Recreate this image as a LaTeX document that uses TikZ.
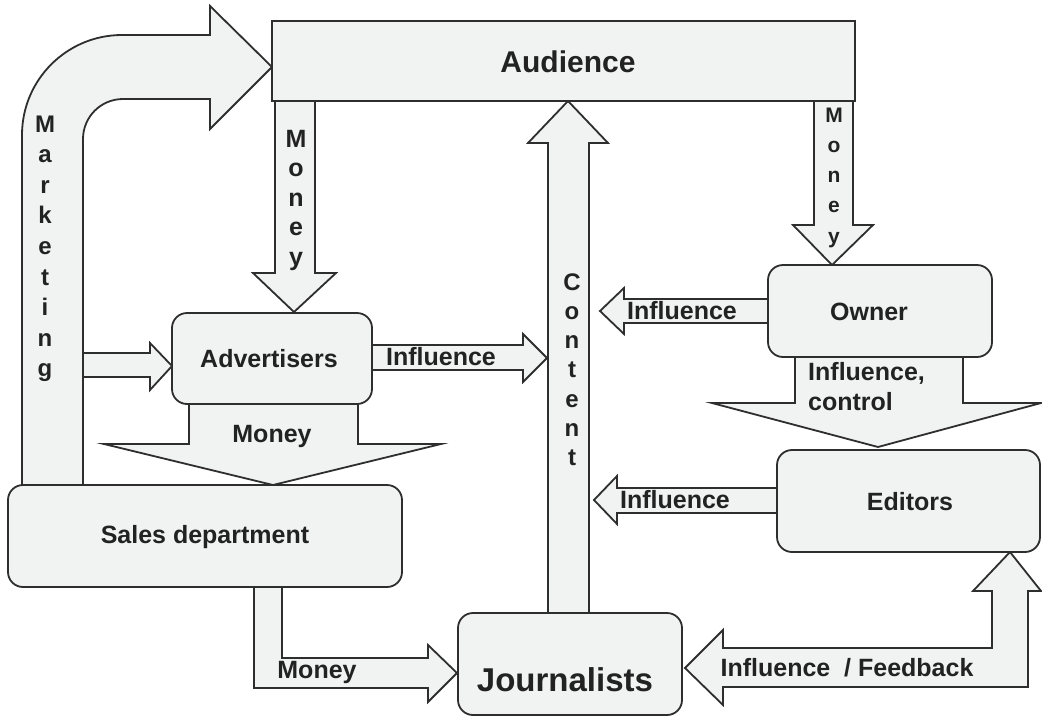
\documentclass[tikz,border=0pt]{standalone}
\usepackage{fontspec}
\setmainfont{Liberation Sans}
\definecolor{lc}{HTML}{2E2E2E}
\definecolor{fc}{HTML}{F1F2F2}
\definecolor{tc}{HTML}{222222}
\begin{document}
\begin{tikzpicture}[x=1pt,y=-1pt,
  blk/.style={draw=lc, fill=fc, line width=1.8pt},
  box/.style={blk, rounded corners=15pt, inner sep=0pt},
  lbl/.style={font=\fontsize{25}{30}\selectfont\bfseries, text=tc, inner sep=0pt},
  vl/.style={font=\fontsize{24}{24}\selectfont\bfseries, text=tc, inner sep=0pt, anchor=base},
  vls/.style={font=\fontsize{21}{21}\selectfont\bfseries, text=tc, inner sep=0pt, anchor=base}]
\useasboundingbox (0,0) rectangle (1042,716);
\fill[white] (0,0) rectangle (1042,716);

% ---------- block arrows ----------
% Marketing (Sales -> Audience)
\draw[blk] (22,485) -- (22,135) .. controls (22,79.8) and (66.8,35) .. (122,35)
  -- (210,35) -- (210,6) -- (272,67) -- (210,129) -- (210,99) -- (123,99)
  .. controls (100.9,99) and (83,116.9) .. (83,139) -- (83,485) -- cycle;
% Marketing branch -> Advertisers
\draw[blk] (83,353) -- (150,353) -- (150,343) -- (172,366) -- (150,390) -- (150,377) -- (83,377) -- cycle;
% Money Audience -> Advertisers
\draw[blk] (275,101) -- (275,273) -- (253,273) -- (294,312) -- (336,273) -- (315,273) -- (315,101) -- cycle;
% Money Advertisers -> Sales
\draw[blk] (189,404) -- (189,444) -- (104,444) -- (273,485) -- (441,444) -- (358,444) -- (358,404) -- cycle;
% Influence Advertisers -> Content
\draw[blk] (372,345) -- (523,345) -- (523,334) -- (547,358) -- (523,382) -- (523,370) -- (372,370) -- cycle;
% Content Journalists -> Audience
\draw[blk] (548,613) -- (548,143) -- (528,143) -- (568,101) -- (608,143) -- (589,143) -- (589,613) -- cycle;
% Influence Owner -> Content
\draw[blk] (768,299) -- (624,299) -- (624,288) -- (600,311) -- (624,334) -- (624,323) -- (768,323) -- cycle;
% Money Audience -> Owner
\draw[blk] (814,101) -- (814,225) -- (793,225) -- (832,265) -- (873,225) -- (853,225) -- (853,101) -- cycle;
% Influence, control Owner -> Editors
\draw[blk] (795,357) -- (795,403) -- (712,403) -- (878,447) -- (1041,403) -- (963,403) -- (963,357) -- cycle;
% Influence Editors -> Content
\draw[blk] (777,488) -- (617,488) -- (617,476) -- (594,500) -- (617,524) -- (617,513) -- (777,513) -- cycle;
% Money Sales -> Journalists
\draw[blk] (254,587) -- (254,688) -- (428,688) -- (428,702) -- (457,673) -- (428,645) -- (428,658) -- (282,658) -- (282,587) -- cycle;
% Influence / Feedback Journalists <-> Editors
\draw[blk] (1010,552) -- (1041,591) -- (1028,591) -- (1028,687) -- (723,687) -- (723,705) -- (685,668)
  -- (723,630) -- (723,648) -- (992,648) -- (992,591) -- (973,591) -- cycle;

% ---------- boxes ----------
\node[blk, inner sep=0pt, minimum width=583pt, minimum height=80pt] (aud) at (563.5,61) {};
\node[box, minimum width=200pt, minimum height=91pt] (adv) at (272,358.5) {};
\node[box, minimum width=394pt, minimum height=102pt] (sales) at (205,536) {};
\node[box, minimum width=224pt, minimum height=102pt] (jour) at (570,664) {};
\node[box, minimum width=224pt, minimum height=92pt] (own) at (880,311) {};
\node[box, minimum width=263pt, minimum height=102pt] (edit) at (908.5,501) {};

% ---------- box labels ----------
\node[lbl, font=\fontsize{30}{36}\selectfont\bfseries] (audT) at (568,62) {Audience};
\node[lbl] (advT) at (269,359) {Advertisers};
\node[lbl] (salesT) at (205,537) {Sales department};
\node[lbl, font=\fontsize{33}{40}\selectfont\bfseries] (jourT) at (565,680) {Journalists};
\node[lbl] (ownT) at (869,312) {Owner};
\node[lbl] (editT) at (910,502) {Editors};

% ---------- arrow labels ----------
\node[lbl] (l1) at (441,357) {Influence};
\node[lbl] (l2) at (272,436) {Money};
\node[lbl] (l3) at (682,311) {Influence};
\node[lbl, align=left, anchor=north west, font=\fontsize{25}{30}\selectfont\bfseries] (l4) at (808,362) {Influence,\\control};
\node[lbl] (l5) at (675,500) {Influence};
\node[lbl] (l6) at (317,672) {Money};
\node[lbl] (l7) at (847,668) {Influence~~/ Feedback};

% vertical words
\foreach \c [count=\i from 0] in {M,a,r,k,e,t,i,n,g}
  \node[vl] (mk\i) at (45,132+30.6*\i) {\c};
\foreach \c [count=\i from 0] in {M,o,n,e,y}
  \node[vl, font=\fontsize{25}{25}\selectfont\bfseries] (ma\i) at (296,147+29.5*\i) {\c};
\foreach \c [count=\i from 0] in {C,o,n,t,e,n,t}
  \node[vl] (ct\i) at (572,290+29.3*\i) {\c};
\foreach \c [count=\i from 0] in {M,o,n,e,y}
  \node[vls] (mo\i) at (834,122+30.3*\i) {\c};
\end{tikzpicture}
\end{document}
